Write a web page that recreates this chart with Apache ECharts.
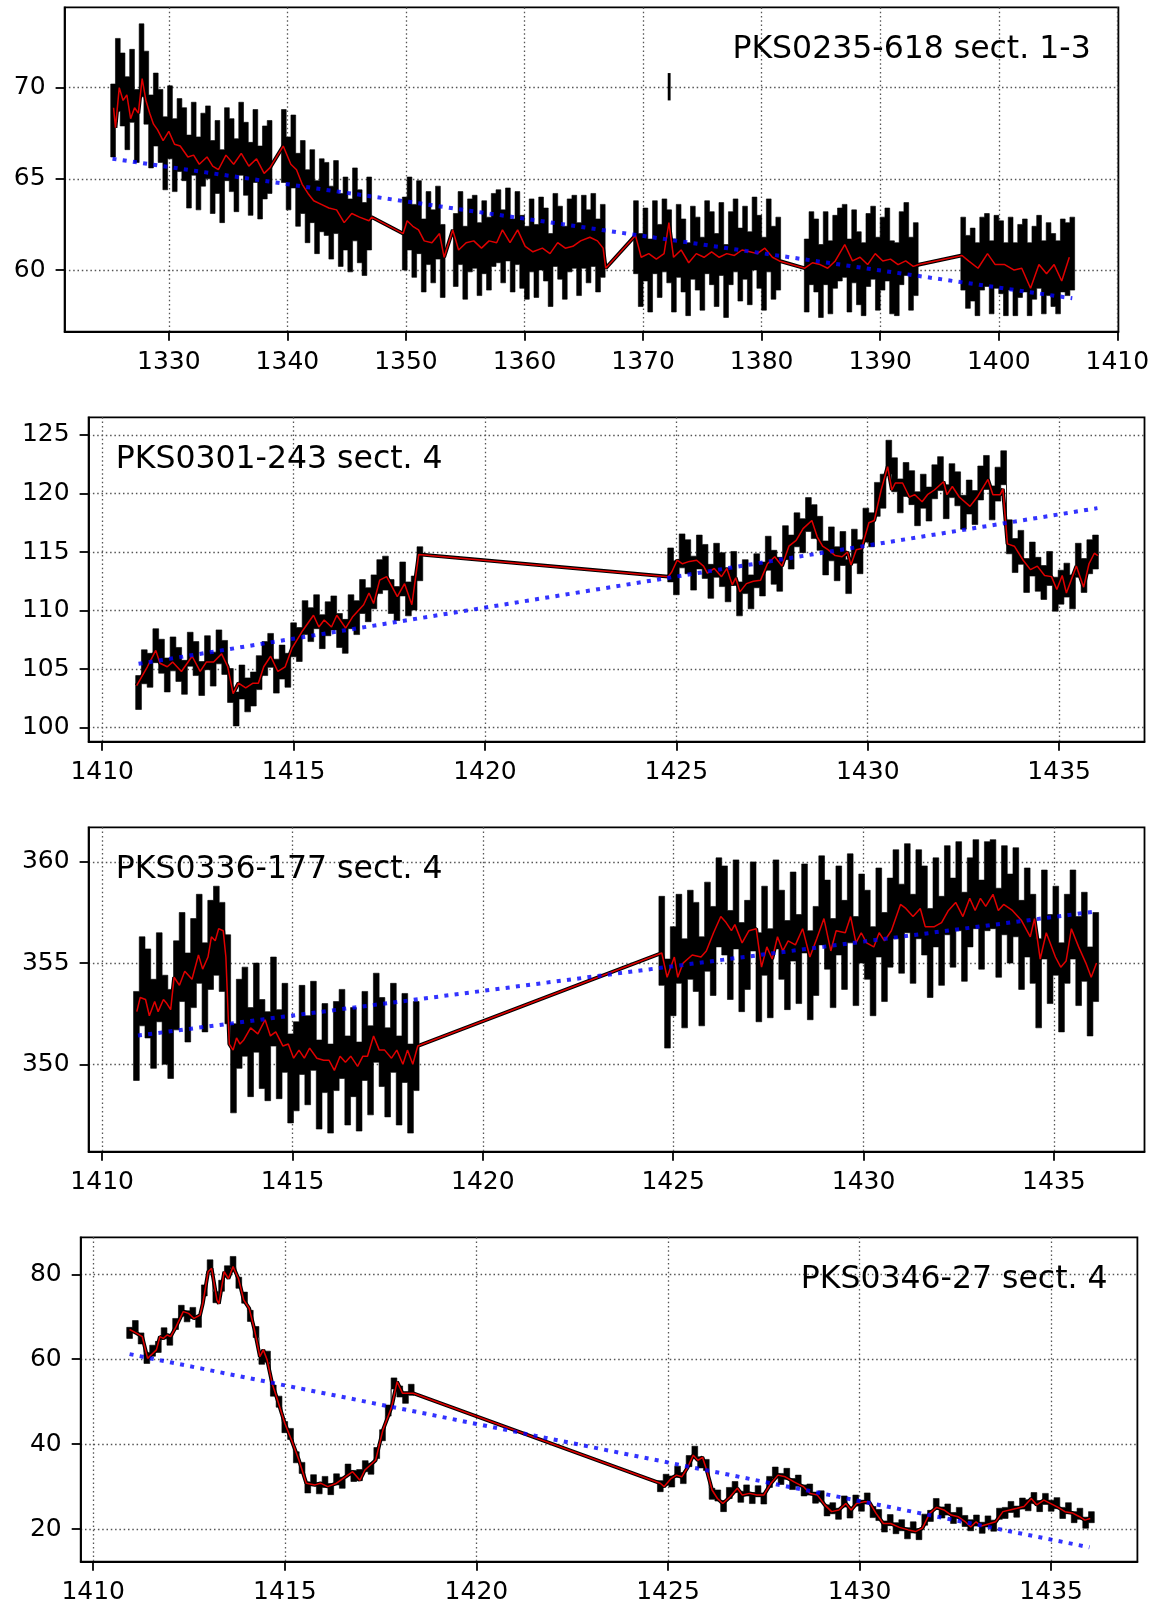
<!DOCTYPE html>
<html>
<head>
<meta charset="utf-8">
<script src="https://cdn.jsdelivr.net/npm/echarts@6/dist/echarts.min.js"></script>
<style>html,body{margin:0;padding:0;background:#fff}#c{width:1159px;height:1608px}</style>
</head>
<body>
<div id="c"></div>
<script>
// ---------------- DATA ----------------
const xTicks1 = [1330, 1340, 1350, 1360, 1370, 1380, 1390, 1400, 1410];
const yTicks1 = [60, 65, 70];
const xTicks234 = [1410, 1415, 1420, 1425, 1430, 1435];
const yTicks2 = [100, 105, 110, 115, 120, 125];
const yTicks3 = [350, 355, 360];
const yTicks4 = [20, 40, 60, 80];

const title1 = 'PKS0235-618 sect. 1-3';
const title2 = 'PKS0301-243 sect. 4';
const title3 = 'PKS0336-177 sect. 4';
const title4 = 'PKS0346-27 sect. 4';

// Panel 1: PKS0235-618 (flux samples per observing segment, cadence step, error bar)
const p1Step = 0.4;
const p1Err = 2.0;
const p1Starts = [1325.3, 1339.7, 1349.9, 1354.2, 1369.4, 1383.8, 1397.0];
const p1Flux = [
  [68.2,70.7,69.9,68.6,70.1,67.9,71.5,70.0,67.6,68.8,67.9,66.4,68.1,66.3,67.4,66.9,65.4,67.2,65.3,66.6,67.0,65.1,66.2,64.6,66.9,66.3,65.2,67.2,66.1,65.0,66.8,64.8,65.9,66.2],
  [66.8,65.3,66.5,64.4,65.1,63.5,64.6,62.9,64.1,63.9,62.6,64.0,62.2,63.1,61.9,63.6,62.4,61.7,63.1],
  [62.0,63.1,61.6,62.9,60.8,62.3,61.3,62.6,60.5],
  [61.1,62.3,60.4,61.9,62.1,60.6,61.8,60.9,62.2,62.4,61.3,62.5,60.8,62.3,61.0,60.4,61.9,60.5,62.0,61.4,60.0,62.2,61.5,60.4,61.9,62.1,60.6,62.1,61.3,62.2,60.8,61.6],
  [61.8,60.0,61.4,59.7,61.8,60.5,61.9,61.3,59.7,61.6,60.8,59.5,61.5,60.9,59.8,61.8,61.2,60.0,61.7,59.4,61.2,61.9,60.3,61.5,60.1,62.0,61.0,59.8,61.9,60.4,60.9],
  [59.7,61.2,60.8,59.4,61.2,59.6,61.0,61.4,61.6,59.7,61.3,60.1,59.5,61.1,61.5,59.8,60.9,61.4,59.6,59.5,61.2,61.7,59.8,60.6],
  [60.9,59.9,60.3,59.5,60.9,61.1,59.6,61.0,60.7,59.5,60.9,59.5,60.5,60.8,59.5,60.4,61.0,59.6,60.6,60.0,59.6,60.8,60.6,60.9]
];
const p1Outlier = [[1372.2, 69.3, 70.8]];
const p1Smooth = [[1325.34,68.9],[1325.5,67.8],[1325.82,70.0],[1326.14,69.3],[1326.46,69.6],[1326.78,68.3],[1327.11,68.9],[1327.43,68.6],[1327.75,70.5],[1328.07,69.3],[1328.39,68.6],[1328.71,68.0],[1329.04,67.7],[1329.52,67.1],[1330.0,67.6],[1330.48,66.9],[1330.96,66.8],[1331.61,66.2],[1332.09,66.3],[1332.57,65.8],[1333.22,66.2],[1333.7,65.7],[1334.18,65.5],[1334.82,66.3],[1335.47,65.8],[1336.11,66.4],[1336.75,65.7],[1337.4,66.1],[1338.04,65.3],[1338.52,65.6],[1339.65,66.8],[1340.29,65.8],[1340.77,65.5],[1341.25,64.7],[1341.74,64.2],[1342.22,63.8],[1342.86,63.6],[1343.5,63.4],[1344.15,63.3],[1344.79,62.6],[1345.43,63.1],[1346.08,62.9],[1346.88,62.7],[1347.11,62.9],[1349.77,62.0],[1350.1,62.7],[1350.58,62.4],[1351.06,62.2],[1351.54,61.6],[1352.19,61.5],[1352.83,62.0],[1353.22,60.7],[1353.95,62.2],[1354.44,61.1],[1355.08,61.5],[1355.72,61.6],[1356.37,61.2],[1357.01,61.6],[1357.65,61.5],[1358.14,62.2],[1358.78,61.5],[1359.42,62.2],[1360.06,61.3],[1360.71,61.0],[1361.51,61.2],[1362.15,60.9],[1362.8,61.5],[1363.44,61.2],[1364.08,61.3],[1364.73,61.6],[1365.51,61.8],[1366.15,61.6],[1366.63,61.2],[1366.85,60.1],[1369.36,61.9],[1369.84,60.7],[1370.48,60.9],[1371.12,60.6],[1371.77,60.9],[1372.18,62.6],[1372.57,60.7],[1373.21,61.1],[1373.85,60.4],[1374.49,60.9],[1375.14,60.7],[1375.78,61.0],[1376.42,60.7],[1377.06,60.9],[1377.7,60.8],[1378.35,61.1],[1378.99,61.0],[1379.63,60.9],[1380.27,61.2],[1380.91,60.7],[1381.49,60.5],[1383.64,60.1],[1384.29,60.4],[1384.93,60.3],[1385.57,60.1],[1386.21,60.5],[1387.01,61.4],[1387.66,60.5],[1388.3,60.7],[1388.94,60.3],[1389.58,60.9],[1390.22,60.5],[1390.87,60.6],[1391.51,60.3],[1392.15,60.5],[1392.79,60.2],[1393.27,60.3],[1396.9,60.8],[1397.45,60.5],[1398.25,60.1],[1399.05,60.9],[1399.7,60.3],[1400.5,60.3],[1401.3,60.0],[1401.94,60.1],[1402.68,59.0],[1403.39,60.3],[1404.03,59.8],[1404.67,60.3],[1405.31,59.4],[1405.95,60.7]];
const p1Trend = [[1325.25, 66.1], [1406.2, 58.45]];

// Panel 2: PKS0301-243
const p2Step = 0.15;
const p2Err = 1.45;
const p2Starts = [1410.95, 1424.85];
const p2Flux = [
  [103.0,105.2,104.9,107.0,106.1,104.5,106.3,105.4,104.3,106.7,105.9,104.2,106.4,105.0,106.9,106.0,103.6,101.6,103.9,102.8,103.3,104.7,105.9,106.6,104.4,105.6,104.9,107.5,107.1,109.4,108.8,109.9,108.2,109.3,109.8,108.3,107.8,109.9,109.4,111.2,110.5,111.6,112.9,113.2,111.2,110.6,112.7,111.0,111.5,114.0],
  [113.9,112.8,115.1,114.6,113.2,115.0,114.2,112.5,114.3,113.5,112.2,113.6,111.0,112.9,111.6,113.4,112.7,114.9,113.7,113.1,115.8,115.0,116.9,116.4,118.2,117.6,116.6,114.5,115.7,114.0,115.3,112.9,115.5,114.6,117.3,116.9,119.5,120.2,123.1,121.6,119.8,121.2,120.5,118.7,120.2,119.1,121.0,121.7,119.3,121.1,120.4,118.4,119.7,118.8,120.9,121.8,119.2,120.8,122.2,116.3,114.7,115.4,113.0,114.4,113.1,112.4,113.6,111.4,112.0,112.6,111.6,114.3,113.0,114.6,115.0]
];
const p2Smooth = [[1410.9,103.6],[1411.18,105.2],[1411.4,106.6],[1411.51,105.5],[1411.7,105.2],[1411.84,105.6],[1412.07,104.8],[1412.35,106.1],[1412.56,104.8],[1412.72,105.6],[1412.91,105.6],[1413.12,106.3],[1413.28,105.2],[1413.42,102.9],[1413.56,103.8],[1413.75,103.4],[1413.94,103.8],[1414.08,103.8],[1414.22,105.2],[1414.4,106.1],[1414.59,104.8],[1414.78,105.2],[1414.96,106.8],[1415.24,108.3],[1415.52,109.6],[1415.66,108.6],[1415.8,109.2],[1415.99,108.6],[1416.13,109.6],[1416.36,108.5],[1416.55,109.5],[1416.83,110.5],[1416.97,111.5],[1417.09,110.6],[1417.25,112.6],[1417.43,112.9],[1417.71,111.2],[1417.9,112.3],[1418.09,110.5],[1418.27,114.8],[1424.79,112.9],[1424.88,113.3],[1425.02,114.3],[1425.16,114.0],[1425.34,114.2],[1425.53,114.3],[1425.71,113.8],[1425.81,113.2],[1425.99,113.6],[1426.18,112.9],[1426.32,113.6],[1426.46,112.2],[1426.55,112.8],[1426.66,111.6],[1426.83,112.3],[1427.01,112.5],[1427.2,112.6],[1427.38,114.0],[1427.57,114.6],[1427.76,113.8],[1427.94,115.5],[1428.13,116.0],[1428.31,117.0],[1428.54,117.7],[1428.68,116.3],[1428.82,115.5],[1428.96,115.2],[1429.15,114.7],[1429.33,114.6],[1429.47,115.0],[1429.56,113.9],[1429.7,115.2],[1429.84,115.3],[1430.03,117.5],[1430.17,117.7],[1430.35,120.3],[1430.52,122.3],[1430.63,120.3],[1430.72,120.9],[1430.91,120.9],[1431.09,119.7],[1431.23,119.9],[1431.42,119.3],[1431.56,119.9],[1431.74,120.3],[1431.98,121.0],[1432.07,119.9],[1432.21,120.6],[1432.39,119.7],[1432.67,118.9],[1432.86,119.7],[1433.14,121.2],[1433.27,119.9],[1433.46,119.9],[1433.53,120.4],[1433.65,115.7],[1433.83,115.5],[1434.06,114.3],[1434.25,113.5],[1434.43,113.8],[1434.62,113.0],[1434.8,112.9],[1434.94,111.8],[1435.08,113.0],[1435.19,111.5],[1435.45,113.8],[1435.64,112.0],[1435.78,114.0],[1435.92,114.9],[1436.01,114.7]];
const p2Trend = [[1410.95, 105.45], [1436.0, 118.75]];

// Panel 3: PKS0336-177
const p3Step = 0.15;
const p3Err = 2.2;
const p3Starts = [1410.9, 1424.7];
const p3Flux = [
  [351.4,354.1,353.5,352.0,354.3,352.2,351.5,353.9,355.3,353.3,355.0,356.2,353.8,355.9,356.6,355.8,354.2,349.8,352.0,352.6,350.6,352.8,351.0,350.4,353.1,350.5,351.8,349.3,349.9,351.7,350.2,351.9,349.0,350.8,348.8,350.9,351.5,349.2,350.6,348.9,351.4,349.7,352.3,351.1,349.6,351.8,349.2,351.3,348.8,350.9],
  [356.1,353.0,354.6,356.2,354.0,356.4,355.8,354.1,356.8,355.6,358.0,357.6,355.4,357.9,354.8,355.9,357.8,354.3,356.6,354.5,357.9,356.4,354.9,357.3,355.2,357.7,354.4,355.6,358.1,356.9,355.0,357.6,355.9,358.2,355.1,357.2,356.4,354.6,357.5,355.3,357.0,358.4,356.7,358.7,356.2,358.4,357.6,355.5,358.0,356.1,358.6,357.0,358.8,356.3,358.0,358.9,356.9,358.8,358.9,356.5,358.6,357.2,358.5,355.9,357.5,356.2,354.0,357.4,355.2,356.6,353.8,356.2,357.4,355.1,356.3,353.6,355.3]
];
const p3Smooth = [[1410.91,352.6],[1411.0,353.3],[1411.14,353.2],[1411.24,352.4],[1411.38,353.1],[1411.47,352.6],[1411.61,353.2],[1411.7,353.0],[1411.8,352.7],[1411.89,354.3],[1412.03,353.9],[1412.17,354.6],[1412.36,354.2],[1412.53,355.4],[1412.64,354.7],[1412.78,355.3],[1412.87,356.3],[1412.97,356.1],[1413.06,356.7],[1413.18,356.6],[1413.25,355.3],[1413.34,351.0],[1413.44,350.7],[1413.53,351.3],[1413.62,351.0],[1413.72,351.2],[1413.9,351.8],[1414.09,351.5],[1414.28,352.2],[1414.42,351.4],[1414.56,351.6],[1414.75,350.9],[1414.89,351.0],[1415.03,350.3],[1415.17,350.7],[1415.31,350.3],[1415.45,350.8],[1415.64,350.3],[1415.82,350.2],[1415.96,350.2],[1416.1,349.7],[1416.25,350.4],[1416.39,350.1],[1416.53,350.4],[1416.71,349.9],[1416.85,350.4],[1416.97,350.4],[1417.13,351.4],[1417.28,350.7],[1417.42,350.7],[1417.6,350.3],[1417.74,350.7],[1417.9,350.0],[1418.02,350.7],[1418.16,350.0],[1418.29,350.9],[1424.7,355.5],[1424.84,354.3],[1425.03,355.3],[1425.12,354.3],[1425.26,355.0],[1425.5,355.4],[1425.73,355.3],[1425.87,355.6],[1426.06,356.5],[1426.25,357.3],[1426.39,357.0],[1426.53,356.6],[1426.62,356.9],[1426.81,356.0],[1426.99,356.6],[1427.18,356.7],[1427.32,354.8],[1427.46,355.8],[1427.6,355.2],[1427.74,356.3],[1427.88,355.6],[1428.02,356.1],[1428.21,355.9],[1428.4,356.7],[1428.59,355.3],[1428.77,356.2],[1428.96,357.2],[1429.14,355.6],[1429.28,356.6],[1429.52,356.5],[1429.66,357.3],[1429.8,356.0],[1429.94,356.5],[1430.08,356.0],[1430.27,355.8],[1430.41,356.5],[1430.55,356.1],[1430.73,356.6],[1430.97,357.9],[1431.11,357.7],[1431.3,357.3],[1431.49,357.7],[1431.62,356.8],[1431.86,356.8],[1432.05,357.0],[1432.23,357.6],[1432.42,358.0],[1432.61,357.3],[1432.79,358.2],[1432.93,357.6],[1433.07,358.2],[1433.21,357.8],[1433.4,358.4],[1433.54,357.6],[1433.68,357.9],[1433.91,357.6],[1434.15,357.1],[1434.38,356.3],[1434.49,357.2],[1434.64,355.2],[1434.8,356.5],[1434.9,356.0],[1435.04,355.3],[1435.18,354.8],[1435.32,355.1],[1435.46,356.7],[1435.65,355.8],[1435.84,355.0],[1435.98,354.3],[1436.12,355.0]];
const p3Trend = [[1410.94, 351.42], [1436.1, 357.55]];

// Panel 4: PKS0346-27
const p4Step = 0.15;
const p4Err = 1.3;
const p4Starts = [1410.95, 1424.8];
const p4Flux = [
  [66.2,67.8,64.9,60.3,62.0,62.9,66.1,64.6,68.3,71.4,70.1,70.9,68.8,76.2,82.1,74.6,77.3,80.7,82.9,78.0,74.5,70.2,66.4,60.1,60.6,52.6,50.0,44.0,42.4,36.9,34.4,29.8,31.5,29.6,31.1,29.4,31.7,30.9,34.0,32.5,32.7,34.8,34.2,37.9,42.1,47.9,54.3,52.4,50.9,52.8],
  [30.1,31.6,31.2,33.5,32.0,36.0,38.2,35.7,35.1,28.3,27.9,25.4,28.5,29.9,27.6,29.1,27.3,28.9,27.2,31.1,33.3,31.8,33.0,30.6,31.4,29.1,29.3,27.4,27.7,24.4,24.9,23.6,26.5,23.9,26.7,25.5,27.2,24.0,23.3,20.6,22.1,20.2,20.9,19.0,20.4,18.8,22.2,23.1,25.9,23.9,24.6,22.6,23.8,21.9,20.9,22.0,20.3,21.8,20.8,23.6,23.8,25.2,24.1,26.0,25.6,27.3,25.4,27.1,25.5,26.1,23.8,24.9,22.8,23.6,21.5,22.8]
];
const p4Smooth = [[1410.95,67.0],[1411.14,66.1],[1411.28,65.3],[1411.42,60.2],[1411.51,61.0],[1411.65,62.2],[1411.74,65.3],[1411.83,64.9],[1411.93,65.7],[1412.02,65.3],[1412.16,67.6],[1412.35,71.2],[1412.49,70.8],[1412.63,69.6],[1412.79,70.4],[1412.86,73.1],[1413.0,80.6],[1413.09,81.4],[1413.23,73.9],[1413.28,73.1],[1413.42,80.6],[1413.53,79.0],[1413.65,81.8],[1413.79,79.0],[1413.93,73.9],[1414.07,72.0],[1414.21,66.9],[1414.35,60.6],[1414.44,62.2],[1414.54,59.8],[1414.67,54.3],[1414.81,50.4],[1415.0,44.9],[1415.19,40.6],[1415.37,36.2],[1415.56,30.8],[1415.79,30.4],[1415.93,30.8],[1416.12,30.0],[1416.35,30.8],[1416.58,32.3],[1416.77,33.5],[1416.96,31.5],[1417.09,33.9],[1417.37,36.2],[1417.56,43.3],[1417.79,48.8],[1417.93,54.7],[1418.07,52.0],[1418.21,52.0],[1418.35,52.0],[1424.8,30.8],[1424.9,30.0],[1425.08,31.9],[1425.22,32.7],[1425.36,32.3],[1425.5,34.3],[1425.66,37.4],[1425.78,36.2],[1425.9,36.9],[1426.01,33.9],[1426.15,29.2],[1426.29,27.2],[1426.43,26.0],[1426.62,27.6],[1426.81,29.6],[1426.94,28.0],[1427.13,28.4],[1427.32,28.0],[1427.5,28.0],[1427.69,30.8],[1427.87,32.7],[1428.06,32.3],[1428.29,31.1],[1428.53,30.0],[1428.71,28.4],[1428.9,28.0],[1429.09,25.7],[1429.27,24.1],[1429.46,24.5],[1429.64,26.0],[1429.78,24.5],[1429.92,26.0],[1430.11,26.4],[1430.25,26.4],[1430.43,23.7],[1430.62,21.3],[1430.81,21.3],[1431.04,20.4],[1431.27,19.8],[1431.46,19.4],[1431.64,20.2],[1431.83,23.7],[1432.01,25.1],[1432.2,24.5],[1432.39,23.3],[1432.57,22.9],[1432.76,21.7],[1432.9,20.5],[1433.04,21.7],[1433.18,20.7],[1433.36,21.2],[1433.55,21.7],[1433.74,24.1],[1433.92,24.5],[1434.11,24.9],[1434.29,25.3],[1434.48,27.2],[1434.62,25.7],[1434.81,26.8],[1434.99,26.0],[1435.18,25.1],[1435.36,24.1],[1435.55,23.8],[1435.74,22.9],[1435.88,22.1],[1436.02,22.5]];
const p4Trend = [[1410.95, 61.2], [1436.0, 15.7]];

// ---------------- LAYOUT / STYLE ----------------
const FONT = 'DejaVu Sans';
const grids = [
  { left: 64.6, top: 7.4, width: 1053.8, height: 324.3 },
  { left: 88.6, top: 417.3, width: 1055.9, height: 324.4 },
  { left: 88.6, top: 827.3, width: 1055.9, height: 324.4 },
  { left: 80.7, top: 1237.3, width: 1056.7, height: 324.4 }
];
const xRanges = [[1321.21, 1410.09], [1409.645, 1437.23], [1409.644, 1437.38], [1409.674, 1437.25]];
const yRanges = [[56.62, 74.40], [98.80, 126.51], [345.68, 361.71], [12.31, 88.71]];
const xTickSets = [xTicks1, xTicks234, xTicks234, xTicks234];
const yTickSets = [yTicks1, yTicks2, yTicks3, yTicks4];

function axisCommon(ticks, margin) {
  return {
    axisLine: { show: true, onZero: false, lineStyle: { color: '#000', width: 1.8 } },
    axisTick: { show: true, inside: false, length: 9, lineStyle: { color: '#000', width: 1.8 }, customValues: ticks },
    axisLabel: { show: true, customValues: ticks, margin: margin, fontSize: 25, fontFamily: FONT, color: '#000',
      formatter: function (v) { return String(v); } },
    splitLine: { show: true, lineStyle: { color: '#555', width: 1.3, type: [1.5, 2.8] } }
  };
}

const xAxes = [], yAxes = [];
for (let i = 0; i < 4; i++) {
  xAxes.push(Object.assign({ type: 'value', gridIndex: i, min: xRanges[i][0], max: xRanges[i][1] }, axisCommon(xTickSets[i], 18)));
  yAxes.push(Object.assign({ type: 'value', gridIndex: i, min: yRanges[i][0], max: yRanges[i][1] }, axisCommon(yTickSets[i], 19)));
}

// error-bar band: one stepped polygon per observing segment (union of the samples' error bars)
function bandSeries(idx, starts, fluxes, step, err) {
  const data = starts.map(function (s, k) { return [s, fluxes[k][0], k]; });
  return {
    type: 'custom', xAxisIndex: idx, yAxisIndex: idx, data: data, z: 2, silent: true,
    encode: { x: 0, y: 1 },
    renderItem: function (params, api) {
      const k = api.value(2);
      const s = starts[k], fl = fluxes[k];
      const upper = [], lower = [];
      for (let i = 0; i < fl.length; i++) {
        const t = s + i * step;
        upper.push(api.coord([t - step / 2, fl[i] + err]), api.coord([t + step / 2, fl[i] + err]));
        lower.push(api.coord([t - step / 2, fl[i] - err]), api.coord([t + step / 2, fl[i] - err]));
      }
      return { type: 'polygon', shape: { points: upper.concat(lower.reverse()) }, style: { fill: '#000', stroke: '#000', lineWidth: 0.6 } };
    }
  };
}
function barSeries(idx, bars, halfWidth) {
  return {
    type: 'custom', xAxisIndex: idx, yAxisIndex: idx, data: bars, z: 2, silent: true,
    encode: { x: 0, y: [1, 2] },
    renderItem: function (params, api) {
      const t = api.value(0);
      const a = api.coord([t - halfWidth, api.value(2)]);
      const b = api.coord([t + halfWidth, api.value(1)]);
      return { type: 'rect', shape: { x: a[0], y: a[1], width: b[0] - a[0], height: b[1] - a[1] }, style: { fill: '#000' } };
    }
  };
}
function smoothSeries(idx, data) {
  return [
    { type: 'line', xAxisIndex: idx, yAxisIndex: idx, data: data, symbol: 'none', showSymbol: false, silent: true, z: 3,
      lineStyle: { color: '#000', width: 3.8 } },
    { type: 'line', xAxisIndex: idx, yAxisIndex: idx, data: data, symbol: 'none', showSymbol: false, silent: true, z: 4,
      lineStyle: { color: '#e00000', width: 1.5 } }
  ];
}
function trendSeries(idx, data) {
  return { type: 'line', xAxisIndex: idx, yAxisIndex: idx, data: data, symbol: 'none', showSymbol: false, silent: true, z: 5,
    lineStyle: { color: 'rgba(0,0,255,0.8)', width: 4, type: [4, 6.3], cap: 'butt' } };
}

const series = [].concat(
  [bandSeries(0, p1Starts, p1Flux, p1Step, p1Err), barSeries(0, p1Outlier, 0.12)], smoothSeries(0, p1Smooth), [trendSeries(0, p1Trend)],
  [bandSeries(1, p2Starts, p2Flux, p2Step, p2Err)], smoothSeries(1, p2Smooth), [trendSeries(1, p2Trend)],
  [bandSeries(2, p3Starts, p3Flux, p3Step, p3Err)], smoothSeries(2, p3Smooth), [trendSeries(2, p3Trend)],
  [bandSeries(3, p4Starts, p4Flux, p4Step, p4Err)], smoothSeries(3, p4Smooth), [trendSeries(3, p4Trend)]
);

function titleText(txt, x, y, align) {
  return { type: 'text', x: x, y: y, z: 100, silent: true,
    style: { text: txt, fontSize: 31.5, fontFamily: FONT, fill: '#000', align: align, verticalAlign: 'middle', textAlign: align, textVerticalAlign: 'middle' } };
}

const chart = echarts.init(document.getElementById('c'), null, { renderer: 'canvas', width: 1159, height: 1608 });
chart.setOption({
  animation: false,
  backgroundColor: '#fff',
  textStyle: { fontFamily: FONT },
  grid: grids.map(function (g) { return Object.assign({ show: true, borderColor: '#000', borderWidth: 1.8, backgroundColor: 'transparent', containLabel: false }, g); }),
  xAxis: xAxes,
  yAxis: yAxes,
  series: series,
  graphic: [
    titleText(title1, 1090.7, 50.1, 'right'),
    titleText(title2, 115.8, 459.8, 'left'),
    titleText(title3, 115.8, 869.8, 'left'),
    titleText(title4, 1107.6, 1279.8, 'right')
  ]
});
</script>
</body>
</html>
